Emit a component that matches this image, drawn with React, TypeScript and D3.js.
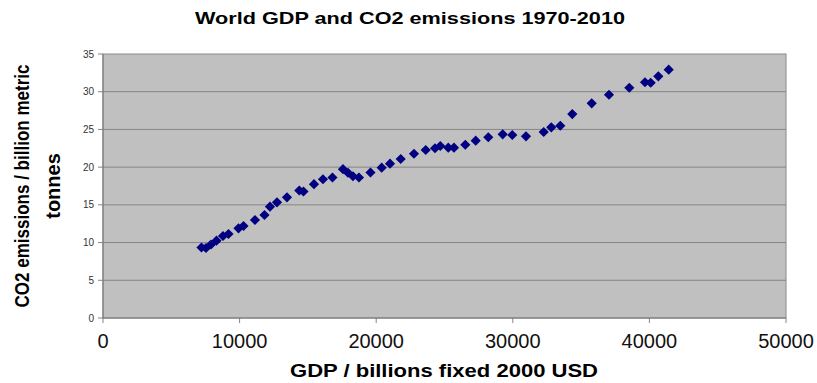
import React from "react";
import * as d3 from "d3";

// World GDP (billions, fixed 2000 USD) and CO2 emissions (billion metric tonnes)
const gdp = [
  7210, 7540, 7906, 8308, 8784, 9187, 9919, 10285, 11126, 11822,
  12224, 12737, 13469, 14369, 14677, 15445, 16104, 16799, 17568, 17934,
  18300, 18739, 19581, 20402, 21010, 21794, 22767, 23624, 24305, 24693,
  25278, 25695, 26523, 27284, 28206, 29261, 29963, 30966, 32262, 32819,
  33477, 34356, 35776, 37042, 38529, 39678, 40095, 40652, 41413,
];
const co2 = [
  9.35, 9.28, 9.74, 10.25, 10.87, 11.14, 11.89, 12.2, 12.99, 13.66,
  14.76, 15.34, 16.0, 16.9, 16.77, 17.74, 18.39, 18.63, 19.73, 19.26,
  18.79, 18.63, 19.29, 19.93, 20.46, 21.08, 21.78, 22.27, 22.5, 22.8,
  22.58, 22.58, 22.97, 23.51, 23.96, 24.35, 24.26, 24.09, 24.66, 25.28,
  25.49, 27.04, 28.46, 29.6, 30.53, 31.25, 31.19, 32.04, 32.92,
];
const xTicks = [0, 10000, 20000, 30000, 40000, 50000];
const yTicks = [0, 5, 10, 15, 20, 25, 30, 35];

const W = 817;
const H = 383;
const plot = { left: 103, right: 786, top: 54, bottom: 318 };

export default function App() {
  const x = d3.scaleLinear().domain([0, 50000]).range([plot.left, plot.right]);
  const y = d3.scaleLinear().domain([0, 35]).range([plot.bottom, plot.top]);
  const diamond = d3.symbol().type(d3.symbolDiamond2).size(66)();
  const font = "Liberation Sans, Arial, sans-serif";
  const narrow = "Liberation Sans Narrow, Arial Narrow, Liberation Sans, sans-serif";
  const pts = gdp.map((g, i) => ({ g, c: co2[i] }));

  return (
    <svg
      width={W}
      height={H}
      style={{ position: "absolute", left: 0, top: 0, background: "#fff" }}
    >
      <text
        x={410}
        y={24}
        textAnchor="middle"
        fontFamily={font}
        fontWeight="bold"
        fontSize={17}
        textLength={430}
        lengthAdjust="spacingAndGlyphs"
        fill="#000"
      >
        World GDP and CO2 emissions 1970-2010
      </text>

      <rect
        x={plot.left}
        y={plot.top}
        width={plot.right - plot.left}
        height={plot.bottom - plot.top}
        fill="#c0c0c0"
        stroke="#8a8a8a"
        strokeWidth={1}
      />

      {yTicks.map((t) => (
        <g key={"y" + t}>
          {t > 0 && t < 35 && (
            <line
              x1={plot.left}
              x2={plot.right}
              y1={y(t)}
              y2={y(t)}
              stroke="#858585"
              strokeWidth={1}
            />
          )}
          <line x1={plot.left - 5} x2={plot.left} y1={y(t)} y2={y(t)} stroke="#858585" />
          <text
            x={plot.left - 9}
            y={y(t) + 3.5}
            textAnchor="end"
            fontFamily={font}
            fontSize={10}
            fill="#333"
          >
            {t}
          </text>
        </g>
      ))}

      {xTicks.map((t) => (
        <g key={"x" + t}>
          <line
            x1={x(t)}
            x2={x(t)}
            y1={plot.bottom}
            y2={plot.bottom + 5}
            stroke="#858585"
          />
          <text
            x={x(t)}
            y={plot.bottom + 30}
            textAnchor="middle"
            fontFamily={font}
            fontSize={20}
            fill="#111"
          >
            {t}
          </text>
        </g>
      ))}

      <line x1={plot.left} x2={plot.left} y1={plot.top} y2={plot.bottom} stroke="#777" />
      <line x1={plot.left} x2={plot.right} y1={plot.bottom} y2={plot.bottom} stroke="#777" />

      {pts.map((p, i) => (
        <path
          key={i}
          d={diamond}
          transform={`translate(${x(p.g)},${y(p.c)})`}
          fill="#000080"
        />
      ))}

      <text
        x={444}
        y={377}
        textAnchor="middle"
        fontFamily={font}
        fontWeight="bold"
        fontSize={18}
        textLength={308}
        lengthAdjust="spacingAndGlyphs"
        fill="#000"
      >
        GDP / billions fixed 2000 USD
      </text>

      <g transform="translate(29,186) rotate(-90)">
        <text
          x={0}
          y={0}
          textAnchor="middle"
          fontFamily={narrow}
          fontWeight="bold"
          fontSize={20}
          textLength={243}
          lengthAdjust="spacingAndGlyphs"
          fill="#000"
        >
          CO2 emissions / billion metric
        </text>
        <text
          x={0}
          y={31}
          textAnchor="middle"
          fontFamily={narrow}
          fontWeight="bold"
          fontSize={20}
          fill="#000"
        >
          tonnes
        </text>
      </g>
    </svg>
  );
}
